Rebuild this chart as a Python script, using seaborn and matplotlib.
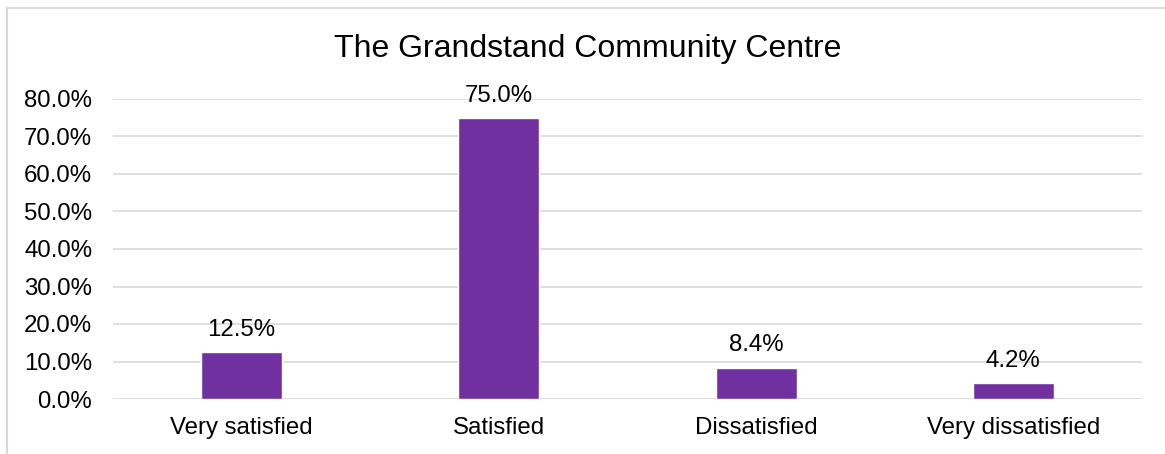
import matplotlib
matplotlib.use("Agg")
import matplotlib.pyplot as plt
import seaborn as sns
import pandas as pd
from matplotlib.ticker import PercentFormatter
from matplotlib.patches import Rectangle

# --- DATA ---
categories = ["Very satisfied", "Satisfied", "Dissatisfied", "Very dissatisfied"]
shares = [12.5, 75.0, 8.4, 4.2]
title = "The Grandstand Community Centre"

BAR_COLOR = "#7030A0"
GRID_COLOR = "#D9D9D9"

sns.set_style("white")
plt.rcParams['font.family'] = ['Liberation Sans', 'DejaVu Sans']

df = pd.DataFrame({'category': categories, 'share': shares})

W, H = 1165, 454
fig = plt.figure(figsize=(W / 100, H / 100), dpi=100)
ax = fig.add_axes([113 / W, 1 - 399 / H, (1142 - 113) / W, 300 / H])

sns.barplot(data=df, x='category', y='share', color=BAR_COLOR, width=0.315,
            saturation=1, ax=ax, zorder=3)

for i, v in enumerate(shares):
    ax.annotate(f"{v:.1f}%", (i, v), xytext=(0, 8), textcoords='offset points',
                ha='center', va='bottom', fontsize=17.3, color='black')

ax.set_ylim(0, 80)
ax.set_yticks(range(0, 81, 10))
ax.yaxis.set_major_formatter(PercentFormatter(decimals=1))
ax.set_xlim(-0.5, 3.5)
ax.grid(True, axis='y', color=GRID_COLOR, linewidth=1.2, zorder=0)
ax.set_axisbelow(True)
for s in ax.spines.values():
    s.set_visible(False)
ax.tick_params(axis='both', length=0, labelsize=17.3, colors='black')
ax.tick_params(axis='y', pad=15)
ax.tick_params(axis='x', pad=13)
ax.set_xlabel("")
ax.set_ylabel("")

fig.text(588 / W, 1 - 49 / H, title, ha='center', va='center', fontsize=23, color='black')

# chart frame
fig.patches.append(Rectangle((7 / W, -0.1), 1.2, 1 - 8 / H + 0.1, transform=fig.transFigure,
                             fill=False, edgecolor=GRID_COLOR, linewidth=1.5))

fig.savefig("out.png", dpi=100)
